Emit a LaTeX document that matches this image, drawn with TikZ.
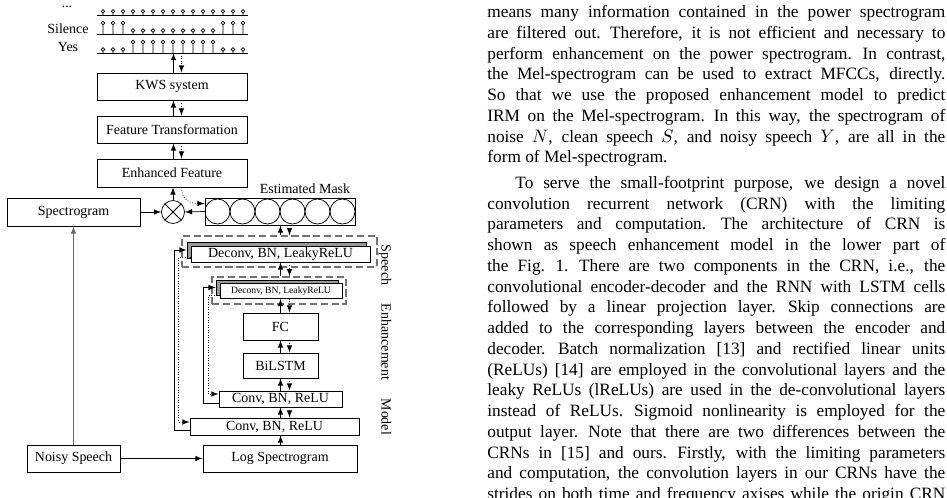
\documentclass[tikz,border=0pt]{standalone}
\usepackage{fontspec}
\setmainfont{Liberation Serif}
\usepackage{tikz}
\usetikzlibrary{arrows,shapes,calc,positioning}
\newcommand{\txtline}[1]{\hbox to 252.8pt{#1}}
\tikzset{
  blk/.style 2 args={draw, fill=white, inner sep=0pt, line width=0.5pt,
    minimum width=#1*0.552pt, minimum height=#2*0.552pt},
  shadowblk/.style 2 args={blk={#1}{#2}, fill=black!40},
  grpbox/.style 2 args={draw=black!55, dash pattern=on 4pt off 2pt, line width=0.8pt,
    inner sep=0pt, minimum width=#1*0.552pt, minimum height=#2*0.552pt},
  back/.style={->, densely dotted},
}
\begin{document}
\begin{tikzpicture}[x=0.552pt, y=-0.552pt, >=latex, font=\fontsize{7.7}{9}\selectfont]
    \useasboundingbox (0,0) rectangle (947,497);
    % keyword posteriors
    \node[inner sep=0pt, anchor=base] (ldots) at (67,7.5) {...};
    \node (lsil) at (68,29) {Silence};
    \node (lyes) at (68,47) {Yes};
    \coordinate (ybase) at (97,53);
    \draw (97,15) -- (248,15) (97,34) -- (248,34) (97,53) -- (248,53); % baselines
    \foreach \i in {0,...,14}{
      \pgfmathsetmacro{\sx}{103+10*\i}
      \pgfmathsetmacro{\hb}{(\i<3 || \i>11) ? 11 : 3.5}
      \pgfmathsetmacro{\hc}{(\i>2 && \i<12) ? 11 : 3.5}
      \draw (\sx,15) -- (\sx,13.2) (\sx,11.4) circle[radius=1.8];
      \draw (\sx,34) -- (\sx,34-\hb+1.8) (\sx,34-\hb) circle[radius=1.8];
      \draw (\sx,53) -- (\sx,53-\hc+1.8) (\sx,53-\hc) circle[radius=1.8];
    }
    % KWS part
    \node[blk={150}{27}] (kws) at (172,86.5) {KWS system};
    \node[blk={150}{27}] (ft) at (172,129.5) {Feature Transformation};
    \node[blk={150}{28}] (ef) at (172,173) {Enhanced Feature};
    \node[blk={133}{28}] (spec) at (73.5,212) {Spectrogram};
    \node[draw, circle, inner sep=0pt, minimum size=23*0.552pt] (mul) at (173,212) {};
    \draw (mul.north east) -- (mul.south west) (mul.north west) -- (mul.south east); % times sign
    \node[blk={150}{27}] (mask) at (280,211.5) {};
    \foreach \k in {0,...,5}
      \node[draw, circle, inner sep=0pt, minimum size=25*0.552pt] (m\k) at (217.5+25*\k,211.5) {};
    \node (masklbl) at (305,189) {Estimated Mask};
    % enhancement model
    \node[grpbox={195}{31}] (dsh1) at (279.5,251.5) {};
    \node[shadowblk={179}{16}] (dc1s) at (276.5,250) {};
    \node[blk={179}{16}] (dc1) at (280.5,254) {Deconv, BN, LeakyReLU};
    \node[grpbox={134}{27}] (dsh2) at (279,290.5) {};
    \node[shadowblk={122}{15}] (dc2s) at (277,287.5) {};
    \node[blk={122}{15}, font=\fontsize{5.3}{6}\selectfont] (dc2) at (281,291) {Deconv, BN, LeakyReLU};
    \node[blk={75}{27}] (fc) at (280.5,326.5) {FC};
    \node[blk={75}{25}] (bilstm) at (280.5,365.5) {BiLSTM};
    \node[blk={123}{16}] (conv1) at (280.5,399) {Conv, BN, ReLU};
    \node[blk={169}{17}] (conv2) at (274.5,426.5) {Conv, BN, ReLU};
    \node[blk={154}{27}] (logspec) at (280,458.5) {Log Spectrogram};
    \node[blk={93}{27}] (noisy) at (73.5,458.5) {Noisy Speech};
    \node[rotate=-90] (sem) at (385,340) {\makebox[104.9pt][s]{Speech Enhancement Model}};
    % forward (solid) and backward (dotted) links
    \coordinate (tcol) at (173.5,0);
    \draw[->] (tcol |- kws.north) -- (tcol |- ybase);
    \draw[back] ($(tcol |- ybase)+(8,0)$) -- ($(tcol |- kws.north)+(8,0)$);
    \foreach \lo/\hi in {ft/kws,ef/ft}{
      \draw[->] (tcol |- \lo.north) -- (tcol |- \hi.south);
      \draw[back] ($(tcol |- \hi.south)+(8,0)$) -- ($(tcol |- \lo.north)+(8,0)$);
    }
    \draw[->] (mul.north) -- (mul.north |- ef.south);
    \draw[back] ($(tcol |- ef.south)+(8,0)$) .. controls +(0,14) and +(-12,0) .. ($(mask.west)+(0,-8)$);
    \draw[->] (spec.east) -- (mul.west);
    \draw[->] (mask.west) -- (mul.east);
    \draw[->, black!60] (noisy.north) -- (spec.south);
    \draw[->] (noisy.east) -- (logspec.west);
    \coordinate (col) at (280.5,0);
    \draw[->] (col |- logspec.north) -- (col |- conv2.south);
    \foreach \lo/\hi in {conv2/conv1,conv1/bilstm,bilstm/fc,fc/dc2,dsh2/dc1,dsh1/mask}{
      \draw[->] (col |- \lo.north) -- (col |- \hi.south);
      \draw[back] ($(col |- \hi.south)+(9,0)$) -- ($(col |- \lo.north)+(9,0)$);
    }
    % skip connections
    \draw[->] ($(conv2.west)+(0,3.5)$) -| ($(dc1s.west)+(-12,0)$) -- (dc1s.west);
    \draw[back] ($(dc1.west)+(0,3)$) -| ($(conv2.west)+(-11,-4.5)$) -- ($(conv2.west)+(0,-4.5)$);
    \draw[->] ($(conv1.west)+(0,4)$) -| ($(dc2s.west)+(-12,0)$) -- (dc2s.west);
    \draw[back] ($(dc2.west)+(0,4)$) -| ($(conv1.west)+(-10,-5)$) -- ($(conv1.west)+(0,-5)$);
    % text column
    \node[anchor=base west, inner sep=0pt, font=\fontsize{9.55}{11.46}\selectfont] (body) at (487,17.5) {\vtop{%
\spaceskip=2.4pt plus 3pt minus 0.8pt\relax
\xspaceskip=3.2pt plus 3pt minus 0.8pt\relax
\txtline{means many information contained in the power spectrogram}
\txtline{are filtered out. Therefore, it is not efficient and necessary to}
\txtline{perform enhancement on the power spectrogram. In contrast,}
\txtline{the Mel-spectrogram can be used to extract MFCCs, directly.}
\txtline{So that we use the proposed enhancement model to predict}
\txtline{IRM on the Mel-spectrogram. In this way, the spectrogram of}
\txtline{noise $N$, clean speech $S$, and noisy speech $Y$, are all in the}
\hbox{form of Mel-spectrogram.}
\vskip2.6pt
\txtline{\hskip15.5pt To serve the small-footprint purpose, we design a novel}
\txtline{convolution recurrent network (CRN) with the limiting}
\txtline{parameters and computation. The architecture of CRN is}
\txtline{shown as speech enhancement model in the lower part of}
\txtline{the Fig. 1. There are two components in the CRN, i.e., the}
\txtline{convolutional encoder-decoder and the RNN with LSTM cells}
\txtline{followed by a linear projection layer. Skip connections are}
\txtline{added to the corresponding layers between the encoder and}
\txtline{decoder. Batch normalization [13] and rectified linear units}
\txtline{(ReLUs) [14] are employed in the convolutional layers and the}
\txtline{leaky ReLUs (lReLUs) are used in the de-convolutional layers}
\txtline{instead of ReLUs. Sigmoid nonlinearity is employed for the}
\txtline{output layer. Note that there are two differences between the}
\txtline{CRNs in [15] and ours. Firstly, with the limiting parameters}
\txtline{and computation, the convolution layers in our CRNs have the}
\txtline{strides on both time and frequency axises while the origin CRN}}};
\end{tikzpicture}
\end{document}
